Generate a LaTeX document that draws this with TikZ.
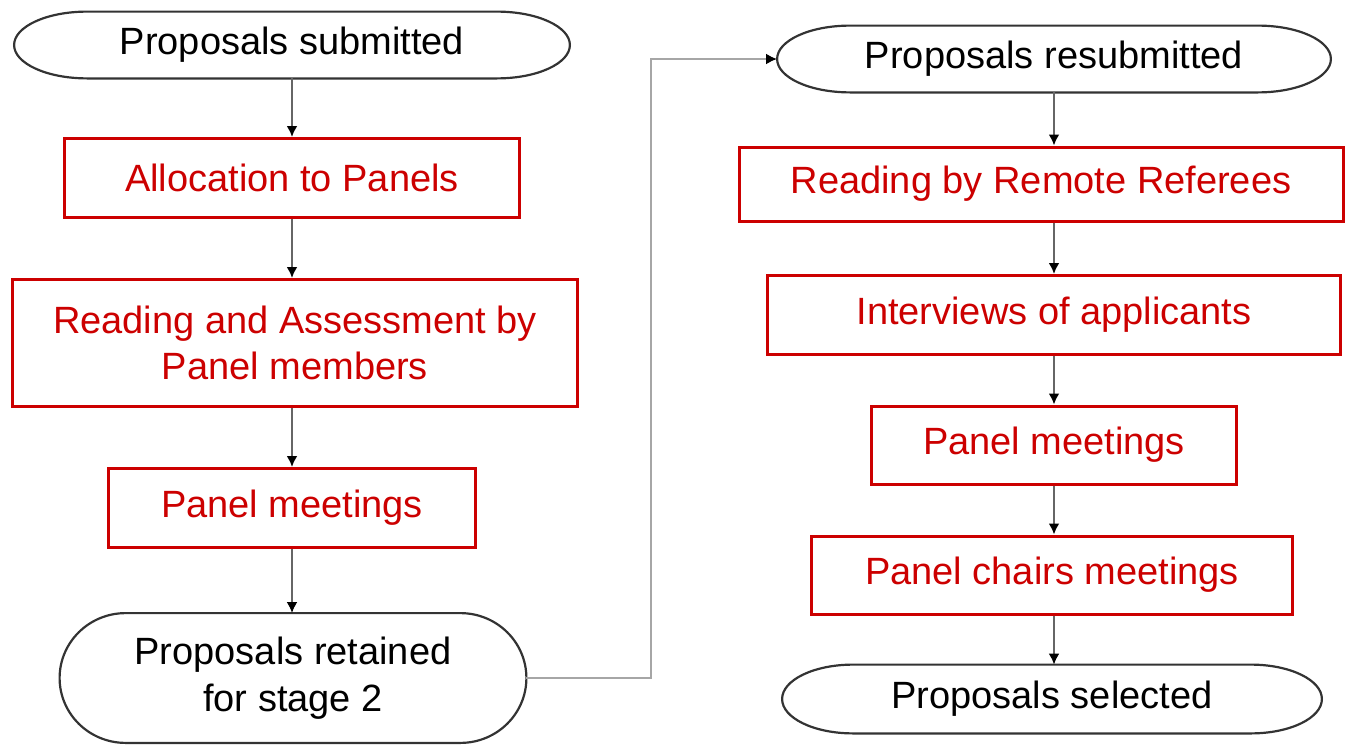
\documentclass[tikz,border=0pt]{standalone}
\usepackage{fontspec}
\setmainfont{Liberation Sans}
\usetikzlibrary{arrows.meta,calc}

\definecolor{boxred}{RGB}{204,0,0}

% outline of a terminal node: #1 = node name, #2 = width of the round ends
\newcommand{\stadium}[2]{%
  \draw[term_line] let \p1=(#1.north east), \p2=(#1.south west), \n1={(\y1-\y2)/2} in
    ([xshift=#2]#1.north west) -- ([xshift=-#2]#1.north east)
    arc[start angle=90, end angle=-90, x radius=#2, y radius=\n1]
    -- ([xshift=#2]#1.south west)
    arc[start angle=270, end angle=90, x radius=#2, y radius=\n1] -- cycle;}

\begin{document}
\begin{tikzpicture}[
    x=0.5pt, y=-0.5pt,
    stage/.style={rectangle, draw=boxred, line width=1.5pt, text=boxred, align=center, inner sep=0pt, font=\fontsize{19}{23}\selectfont},
    terminal/.style={rectangle, draw=none, text=black, align=center, inner sep=0pt, font=\fontsize{19}{23.5}\selectfont},
    term_line/.style={line width=1.1pt, color=black!80},
    flow_arrow/.style={-{Latex[length=5.5pt, width=5.5pt, black]}, line width=1.3pt, color=black!60},
    link_arrow/.style={-{Latex[length=5.5pt, width=5.5pt, black]}, line width=1.2pt, color=black!35}
]
\useasboundingbox (0,0) rectangle (1354,744);

% Stage 1
\node[terminal, minimum width=277.5pt, minimum height=33pt] (submitted) at (292,45) {Proposals submitted};
\stadium{submitted}{36.5pt}
\node[stage, minimum width=227.5pt, minimum height=39.5pt] (allocation) at (292,178) {Allocation to Panels};
\node[stage, minimum width=282.5pt, minimum height=63.5pt] (assessment) at (295,343) {Reading and Assessment by\\Panel members};
\node[stage, minimum width=183.5pt, minimum height=39.5pt] (panels1) at (292,508) {Panel meetings};
\node[terminal, minimum width=233pt, minimum height=64.5pt] (retained) at (293,678) {Proposals retained\\for stage 2};
\stadium{retained}{33pt}

% Stage 2
\node[terminal, minimum width=276.5pt, minimum height=33pt] (resubmitted) at (1054,59) {Proposals resubmitted};
\stadium{resubmitted}{36.5pt}
\node[stage, minimum width=302pt, minimum height=37pt] (referees) at (1041,184) {Reading by Remote Referees};
\node[stage, minimum width=286.5pt, minimum height=39.5pt] (interviews) at (1054,315) {Interviews of applicants};
\node[stage, minimum width=182.5pt, minimum height=39pt] (panels2) at (1054,445) {Panel meetings};
\node[stage, minimum width=240.5pt, minimum height=39pt] (chairs) at (1052,575) {Panel chairs meetings};
\node[terminal, minimum width=269.5pt, minimum height=34pt] (selected) at (1052,699) {Proposals selected};
\stadium{selected}{35.5pt}

% Flow: stage 1
\draw[flow_arrow] (submitted.south) -- (submitted.south |- allocation.north);
\draw[flow_arrow] (allocation.south) -- (allocation.south |- assessment.north);
\draw[flow_arrow] (allocation.south |- assessment.south) -- (allocation.south |- panels1.north);
\draw[flow_arrow] (panels1.south) -- (panels1.south |- retained.north);

% Flow: stage 1 to stage 2
\coordinate (turn) at (651,0);
\draw[link_arrow] (retained.east) -- (retained.east -| turn) |- (resubmitted.west);

% Flow: stage 2
\draw[flow_arrow] (resubmitted.south) -- (resubmitted.south |- referees.north);
\draw[flow_arrow] (resubmitted.south |- referees.south) -- (resubmitted.south |- interviews.north);
\draw[flow_arrow] (interviews.south) -- (interviews.south |- panels2.north);
\draw[flow_arrow] (panels2.south) -- (panels2.south |- chairs.north);
\draw[flow_arrow] (panels2.south |- chairs.south) -- (panels2.south |- selected.north);

\end{tikzpicture}
\end{document}
